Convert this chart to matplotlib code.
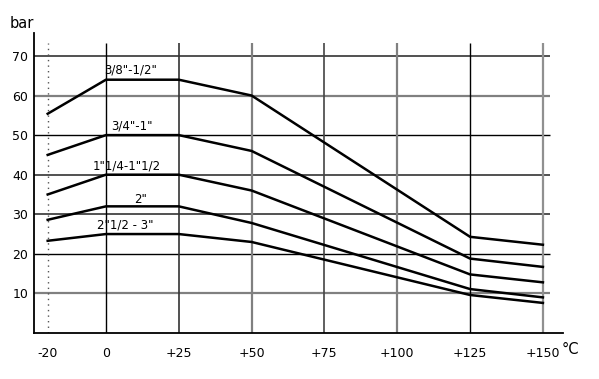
import numpy as np
import matplotlib.pyplot as plt

# temperature points (°C) and max pressure (bar) per thread size
temps = [-20, 0, 25, 50, 125, 150]
p_38_12 = [55.4, 64, 64, 60, 24.3, 22.3]
p_34_1 = [45, 50, 50, 46, 18.8, 16.7]
p_114_112 = [35, 40, 40, 36, 14.8, 12.8]
p_2 = [28.6, 32, 32, 27.8, 11.1, 9.0]
p_212_3 = [23.3, 25, 25, 23, 9.6, 7.6]

series = [p_38_12, p_34_1, p_114_112, p_2, p_212_3]
labels = ['3/8"-1/2"', '3/4"-1"', '1"1/4-1"1/2', '2"', '2"1/2 - 3"']
label_pos = [(8.6, 66.4), (8.9, 52.3), (7.2, 42.3), (12.0, 33.8), (6.5, 27.2)]

xticks = [-20, 0, 25, 50, 75, 100, 125, 150]
xtick_labels = ['-20', '0', '+25', '+50', '+75', '+100', '+125', '+150']
yticks = [10, 20, 30, 40, 50, 60, 70]

# grid line shades, roughly as in the scanned original
vgrid_colors = ['black', '#333333', '#808080', '#444444', '#808080', 'black', '#909090']
vgrid_widths = [1.0, 1.2, 1.6, 1.2, 1.6, 1.0, 1.6]
hgrid_colors = ['#808080', 'black', '#333333', '#333333', 'black', '#808080', '#333333']
hgrid_widths = [1.6, 1.0, 1.2, 1.2, 1.0, 1.6, 1.2]

fig = plt.figure(figsize=(5.99, 3.79), dpi=100)
ax = fig.add_axes([34 / 599, 1 - 333 / 379, 529 / 599, 300 / 379])
ax.set_xlim(-24.7, 156.9)
ax.set_ylim(0, 75.8)

for s in ['top', 'right']:
    ax.spines[s].set_visible(False)
for s in ['left', 'bottom']:
    ax.spines[s].set_linewidth(1.3)
    ax.spines[s].set_color('black')

# grid
for y, c, w in zip(yticks, hgrid_colors, hgrid_widths):
    ax.hlines(y, -24.7, 152.4, color=c, lw=w, zorder=1)
for x, c, w in zip(xticks[1:], vgrid_colors, vgrid_widths):
    ax.vlines(x, 0, 73.3, color=c, lw=w, zorder=1)
ax.vlines(-20, 0, 73.3, color='#555555', lw=1, linestyles=(0, (1, 3)), zorder=1)

for vals in series:
    ax.plot(temps, vals, color='black', lw=1.8, zorder=3)

for lab, (x, y) in zip(labels, label_pos):
    ax.text(x, y, lab, ha='center', va='center', fontsize=8.5, color='black', zorder=4)

ax.set_xticks(xticks)
ax.set_xticklabels(xtick_labels, fontsize=9)
ax.set_yticks(yticks)
ax.set_yticklabels([str(v) for v in yticks], fontsize=9)
ax.tick_params(axis='both', length=0)
ax.tick_params(axis='x', pad=10)
ax.tick_params(axis='y', pad=4)

fig.text(22 / 599, 1 - 24 / 379, 'bar', ha='center', va='center', fontsize=10.5)
fig.text(570 / 599, 1 - 349 / 379, '°C', ha='center', va='center', fontsize=10.5)

fig.savefig('out.png', dpi=100)
